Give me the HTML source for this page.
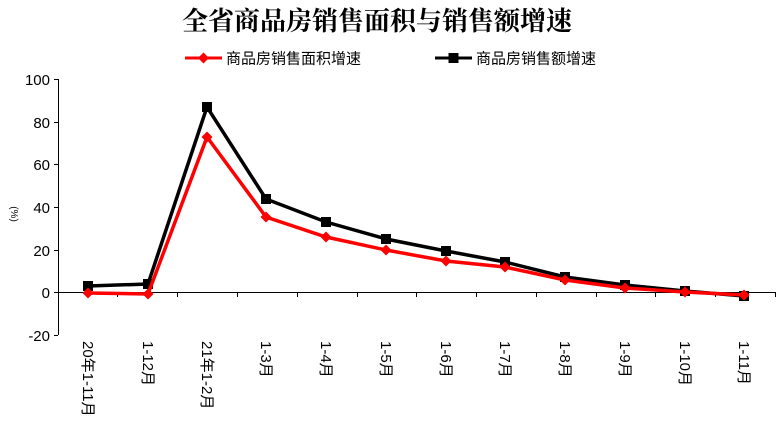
<!DOCTYPE html>
<html><head><meta charset="utf-8"><style>body{margin:0;background:#fff}svg{display:block}</style></head><body>
<svg width="779" height="439" xmlns="http://www.w3.org/2000/svg" font-family="'Liberation Sans','Noto Sans CJK SC',sans-serif">
<rect width="779" height="439" fill="#fff"/>
<text x="377" y="30" text-anchor="middle" font-family="'Liberation Serif','Noto Serif CJK SC',serif" font-weight="bold" font-size="26">全省商品房销售面积与销售额增速</text>
<line x1="185" y1="58" x2="222" y2="58" stroke="#f00" stroke-width="3"/>
<path d="M203.5 52.5 L209 58 L203.5 63.5 L198 58Z" fill="#f00"/>
<text x="226" y="63.5" font-size="15">商品房销售面积增速</text>
<line x1="435" y1="58" x2="472" y2="58" stroke="#000" stroke-width="3"/>
<rect x="448.5" y="53" width="10" height="10" fill="#000"/>
<text x="476" y="63.5" font-size="15">商品房销售额增速</text>
<g stroke="#000" stroke-width="1">
<line x1="58.5" y1="79" x2="58.5" y2="335"/>
<line x1="58" y1="292.5" x2="775" y2="292.5"/>
<line x1="54" y1="79.5" x2="58" y2="79.5"/><line x1="54" y1="122.5" x2="58" y2="122.5"/><line x1="54" y1="164.5" x2="58" y2="164.5"/><line x1="54" y1="207.5" x2="58" y2="207.5"/><line x1="54" y1="250.5" x2="58" y2="250.5"/><line x1="54" y1="292.5" x2="58" y2="292.5"/><line x1="54" y1="335.5" x2="58" y2="335.5"/>
<line x1="117.5" y1="292" x2="117.5" y2="297"/><line x1="177.5" y1="292" x2="177.5" y2="297"/><line x1="237.5" y1="292" x2="237.5" y2="297"/><line x1="297.5" y1="292" x2="297.5" y2="297"/><line x1="357.5" y1="292" x2="357.5" y2="297"/><line x1="416.5" y1="292" x2="416.5" y2="297"/><line x1="476.5" y1="292" x2="476.5" y2="297"/><line x1="536.5" y1="292" x2="536.5" y2="297"/><line x1="596.5" y1="292" x2="596.5" y2="297"/><line x1="655.5" y1="292" x2="655.5" y2="297"/><line x1="715.5" y1="292" x2="715.5" y2="297"/><line x1="775.5" y1="292" x2="775.5" y2="297"/>
</g>
<g font-size="15" text-anchor="end">
<text x="50" y="85">100</text><text x="50" y="128">80</text><text x="50" y="170">60</text><text x="50" y="213">40</text><text x="50" y="256">20</text><text x="50" y="298">0</text><text x="50" y="341">-20</text>
</g>
<text transform="translate(11,214) rotate(90)" font-size="10" text-anchor="middle">(%)</text>
<g font-size="15">
<text transform="translate(83,341) rotate(90)">20年1-11月</text>
<text transform="translate(143,341) rotate(90)">1-12月</text>
<text transform="translate(202,341) rotate(90)">21年1-2月</text>
<text transform="translate(261,341) rotate(90)">1-3月</text>
<text transform="translate(321,341) rotate(90)">1-4月</text>
<text transform="translate(381,341) rotate(90)">1-5月</text>
<text transform="translate(441,341) rotate(90)">1-6月</text>
<text transform="translate(500,341) rotate(90)">1-7月</text>
<text transform="translate(560,341) rotate(90)">1-8月</text>
<text transform="translate(620,341) rotate(90)">1-9月</text>
<text transform="translate(680,341) rotate(90)">1-10月</text>
<text transform="translate(739,341) rotate(90)">1-11月</text>
</g>
<polyline fill="none" stroke="#000" stroke-width="3.5" points="88,286 148,284 207,107 266,199 326,222 386,239 446,251 505,262 565,277 625,285 685,291 744,296"/>
<g fill="#000">
<rect x="83" y="281" width="10" height="10"/><rect x="143" y="279" width="10" height="10"/><rect x="202" y="102" width="10" height="10"/><rect x="261" y="194" width="10" height="10"/><rect x="321" y="217" width="10" height="10"/><rect x="381" y="234" width="10" height="10"/><rect x="441" y="246" width="10" height="10"/><rect x="500" y="257" width="10" height="10"/><rect x="560" y="272" width="10" height="10"/><rect x="620" y="280" width="10" height="10"/><rect x="680" y="286" width="10" height="10"/><rect x="739" y="291" width="10" height="10"/>
</g>
<polyline fill="none" stroke="#f00" stroke-width="3.5" points="88,293 148,294 207,137 266,217 326,237 386,250 446,261 505,267 565,280 625,288 685,292 744,295"/>
<g fill="#f00">
<path d="M88 287.5L93.5 293L88 298.5L82.5 293Z"/><path d="M148 288.5L153.5 294L148 299.5L142.5 294Z"/><path d="M207 131.5L212.5 137L207 142.5L201.5 137Z"/><path d="M266 211.5L271.5 217L266 222.5L260.5 217Z"/><path d="M326 231.5L331.5 237L326 242.5L320.5 237Z"/><path d="M386 244.5L391.5 250L386 255.5L380.5 250Z"/><path d="M446 255.5L451.5 261L446 266.5L440.5 261Z"/><path d="M505 261.5L510.5 267L505 272.5L499.5 267Z"/><path d="M565 274.5L570.5 280L565 285.5L559.5 280Z"/><path d="M625 282.5L630.5 288L625 293.5L619.5 288Z"/><path d="M685 286.5L690.5 292L685 297.5L679.5 292Z"/><path d="M744 289.5L749.5 295L744 300.5L738.5 295Z"/>
</g>
</svg>
</body></html>
